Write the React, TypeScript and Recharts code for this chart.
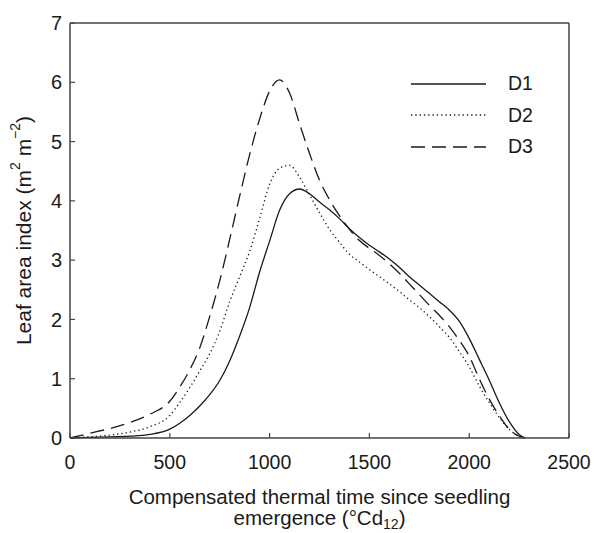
import React from "react";
import {
  LineChart,
  Line,
  XAxis,
  YAxis,
  Legend,
  ReferenceLine,
} from "recharts";

// thermal time (°Cd12)
const time = [
  0, 100, 200, 300, 400, 500, 550, 600, 650, 700, 750, 800, 850, 900, 950,
  1000, 1050, 1100, 1150, 1200, 1250, 1300, 1350, 1400, 1450, 1500, 1550,
  1600, 1650, 1700, 1750, 1800, 1850, 1900, 1950, 2000, 2050, 2100, 2150,
  2200, 2250, 2280,
];

const d1 = [
  0, 0.01, 0.02, 0.03, 0.06, 0.15, 0.25, 0.38, 0.54, 0.73, 0.97, 1.3, 1.72,
  2.2, 2.8, 3.32, 3.84, 4.12, 4.2, 4.12, 3.98, 3.85, 3.7, 3.53, 3.38, 3.25,
  3.14, 3.02, 2.88, 2.72, 2.58, 2.44, 2.3, 2.16, 1.97, 1.68, 1.33, 0.98, 0.6,
  0.28, 0.06, 0,
];

const d2 = [
  0, 0.02, 0.05, 0.1, 0.19, 0.38, 0.6, 0.85, 1.13, 1.42, 1.8, 2.3, 2.72, 3.15,
  3.7, 4.28, 4.55, 4.6, 4.4, 4.1, 3.8, 3.52, 3.3, 3.1, 2.97, 2.84, 2.72, 2.6,
  2.47, 2.33, 2.2, 2.05, 1.88, 1.7, 1.46, 1.2, 0.88, 0.6, 0.35, 0.15, 0.03, 0,
];

const d3 = [
  0, 0.08, 0.16, 0.26, 0.4, 0.62, 0.86, 1.15, 1.52, 2.05, 2.65, 3.35, 4.08,
  4.78, 5.38, 5.85, 6.04, 5.82, 5.3, 4.8, 4.35, 4.02, 3.75, 3.52, 3.33, 3.2,
  3.08, 2.94, 2.78, 2.6, 2.42, 2.24, 2.07, 1.88, 1.65, 1.38, 1.0, 0.66, 0.38,
  0.15, 0.03, 0,
];

const xTicks = [0, 500, 1000, 1500, 2000, 2500];
const yTicks = [0, 1, 2, 3, 4, 5, 6, 7];

const seriesNames = ["D1", "D2", "D3"];
const dashes = ["", "1.3 3", "14 7"];

const data = time.map((t, i) => ({ t, D1: d1[i], D2: d2[i], D3: d3[i] }));

const FONT = "'Liberation Sans', Arial, sans-serif";
const INK = "#1a1a1a";
const AXIS = "#444";

const YLabel = (props: any) => {
  const vb = props.viewBox || {};
  const cx = 23;
  const cy = (vb.y ?? 23) + (vb.height ?? 415) / 2;
  return (
    <text
      x={cx}
      y={cy}
      transform={`rotate(-90, ${cx}, ${cy})`}
      textAnchor="middle"
      dominantBaseline="central"
      fontFamily={FONT}
      fontSize={21}
      fill={INK}
    >
      Leaf area index (m
      <tspan dy={-8} fontSize={14}>2</tspan>
      <tspan dy={8}> m</tspan>
      <tspan dy={-8} fontSize={14}>−2</tspan>
      <tspan dy={8}>)</tspan>
    </text>
  );
};

const XLabel = (props: any) => {
  const vb = props.viewBox || {};
  const cx = (vb.x ?? 70) + (vb.width ?? 499) / 2;
  return (
    <g fontFamily={FONT} fontSize={20.5} fill={INK}>
      <text x={cx} y={504} textAnchor="middle">
        Compensated thermal time since seedling
      </text>
      <text x={cx} y={525} textAnchor="middle">
        emergence (°Cd
        <tspan dy={4} fontSize={14}>12</tspan>
        <tspan dy={-4}>)</tspan>
      </text>
    </g>
  );
};

const LegendBox = () => (
  <div style={{ fontFamily: FONT, fontSize: 19.5, color: INK }}>
    {seriesNames.map((name, i) => (
      <div
        key={name}
        style={{ display: "flex", alignItems: "center", height: 31.5 }}
      >
        <svg width={78} height={10} style={{ marginRight: 20 }}>
          <line
            x1={1}
            x2={76}
            y1={5}
            y2={5}
            stroke={INK}
            strokeWidth={1.3}
            strokeDasharray={dashes[i] || undefined}
          />
        </svg>
        <span>{name}</span>
      </div>
    ))}
  </div>
);

export default function App() {
  return (
    <div style={{ position: "absolute", left: 0, top: 0, background: "#fff" }}>
      <LineChart
        width={594}
        height={533}
        data={data}
        margin={{ top: 23, right: 25, left: 0, bottom: 0 }}
      >
        <XAxis
          dataKey="t"
          type="number"
          domain={[0, 2500]}
          ticks={xTicks}
          height={95}
          tickSize={-5}
          tickMargin={22}
          axisLine={{ stroke: AXIS, strokeWidth: 1.5 }}
          tickLine={{ stroke: AXIS, strokeWidth: 1.2 }}
          tick={{ fill: INK, fontFamily: FONT, fontSize: 19.5 }}
          label={<XLabel />}
        />
        <YAxis
          type="number"
          domain={[0, 7]}
          ticks={yTicks}
          width={70}
          tickSize={-5}
          tickMargin={13}
          axisLine={{ stroke: AXIS, strokeWidth: 1.5 }}
          tickLine={{ stroke: AXIS, strokeWidth: 1.2 }}
          tick={{ fill: INK, fontFamily: FONT, fontSize: 20 }}
          label={<YLabel />}
        />
        <ReferenceLine y={7} stroke={AXIS} strokeWidth={1.5} />
        <ReferenceLine x={2500} stroke={AXIS} strokeWidth={1.5} />
        {seriesNames.map((name, i) => (
          <Line
            key={name}
            dataKey={name}
            type="monotone"
            stroke={INK}
            strokeWidth={1.3}
            strokeDasharray={dashes[i] || undefined}
            dot={false}
            activeDot={false}
            isAnimationActive={false}
          />
        ))}
        <Legend
          layout="vertical"
          align="center"
          verticalAlign="middle"
          content={<LegendBox />}
          wrapperStyle={{ left: 410, top: 68, width: 170 }}
        />
      </LineChart>
    </div>
  );
}
